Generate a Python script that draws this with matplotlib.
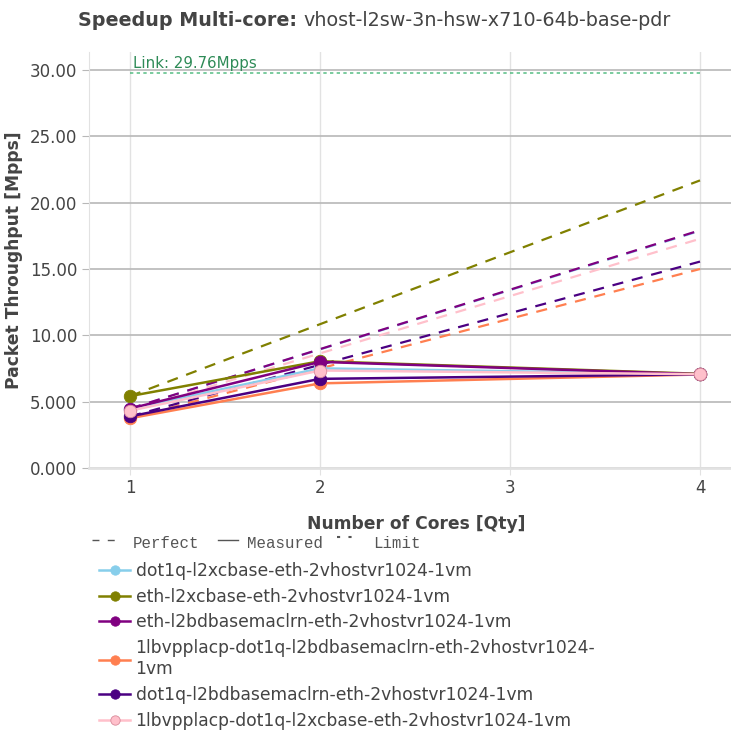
import matplotlib
matplotlib.use("Agg")
import matplotlib.pyplot as plt
import matplotlib.ticker as ticker
from matplotlib.lines import Line2D

# data
cores = [1, 2, 4]
names = [
    "dot1q-l2xcbase-eth-2vhostvr1024-1vm",
    "eth-l2xcbase-eth-2vhostvr1024-1vm",
    "eth-l2bdbasemaclrn-eth-2vhostvr1024-1vm",
    "1lbvpplacp-dot1q-l2bdbasemaclrn-eth-2vhostvr1024-\n1vm",
    "dot1q-l2bdbasemaclrn-eth-2vhostvr1024-1vm",
    "1lbvpplacp-dot1q-l2xcbase-eth-2vhostvr1024-1vm",
]
colors = ["#87ceeb", "#808000", "#800080", "#ff7f50", "#4b0082", "#ffc0cb"]
measured = [
    [4.47, 7.51, 7.08],
    [5.42, 8.05, 7.10],
    [4.48, 8.00, 7.07],
    [3.75, 6.38, 7.05],
    [3.89, 6.72, 7.06],
    [4.32, 7.35, 7.07],
]
link_limit = 29.76
xticks = [1, 2, 3, 4]

W, H = 731, 736
fig = plt.figure(figsize=(W / 100, H / 100), dpi=100)
ax = fig.add_axes([89 / W, 1 - 468 / H, 1 - 89 / W, (468 - 52) / H])

txt = "#444444"

for i, name in enumerate(names):
    base = measured[i][0]
    ax.plot(cores, [base * c for c in cores], ls=(0, (5, 4)), lw=1.6,
            color=colors[i], zorder=3)
for i, name in enumerate(names):
    ax.plot(cores, measured[i], color=colors[i], lw=1.8, marker="o",
            markersize=9, markeredgewidth=0.6,
            markeredgecolor=colors[i] if i != 5 else "#d98a9a",
            label=name, zorder=4 + i)

ax.plot([1, 4], [link_limit, link_limit], ls=(0, (2, 2)), lw=1.2,
        color="#3cb371", alpha=0.8, zorder=2)
ax.text(1.015, link_limit + 0.2, "Link: 29.76Mpps", color="#2e8b57",
        fontsize=10.8, va="bottom", ha="left")

ax.set_xlim(1 - 41 / 190, 4 + 31 / 190)
ax.set_ylim(0, 31.36)
ax.set_xticks(xticks)
ax.set_yticks([0, 5, 10, 15, 20, 25, 30])
ax.yaxis.set_major_formatter(ticker.FuncFormatter(
    lambda v, p: "%.2f" % v if v >= 10 else "%.3f" % v))

ax.grid(axis="x", color="#e2e2e2", lw=1)
ax.grid(axis="y", color="#b8b8b8", lw=1.2)
ax.set_axisbelow(True)
for s in ["top", "right"]:
    ax.spines[s].set_visible(False)
ax.spines["left"].set_color("#e2e2e2")
ax.spines["bottom"].set_color("#e2e2e2")
ax.spines["bottom"].set_linewidth(2)
ax.tick_params(axis="both", colors="#b8b8b8", labelcolor=txt, labelsize=12,
               length=5)
ax.tick_params(axis="x", colors="#e2e2e2", labelcolor=txt, pad=3)

ax.set_ylabel("Packet Throughput [Mpps]", fontsize=12.3, fontweight="bold",
              color=txt, labelpad=5)
fig.text(416 / W, 1 - 524 / H, "Number of Cores [Qty]", fontsize=12.3,
         fontweight="bold", color=txt, ha="center", va="center")

fig.text(297 / W, 1 - 21 / H, "Speedup Multi-core:", fontsize=13.8,
         fontweight="bold", color=txt, ha="right", va="center")
fig.text(303 / W, 1 - 21 / H, "vhost-l2sw-3n-hsw-x710-64b-base-pdr",
         fontsize=13.8, color=txt, ha="left", va="center")

# line style key
ky = 1 - 540 / H
fig.add_artist(Line2D([92 / W, 121 / W], [ky, ky], ls=(0, (5, 6)), lw=1,
                      color="#555555"))
fig.add_artist(Line2D([218 / W, 238 / W], [ky, ky], lw=1, color="#555555"))
fig.add_artist(Line2D([337 / W, 358 / W], [1 - 537 / H, 1 - 537 / H],
                      ls=(0, (1.5, 4)), lw=1.5, color="#555555"))
for x0, s in [(133, "Perfect"), (247, "Measured"), (373, "Limit")]:
    fig.text(x0 / W, 1 - 543 / H, s, fontsize=11.3, family="Liberation Mono",
             color="#555555", va="center", ha="left")

leg = fig.legend(loc="upper left", bbox_to_anchor=(92 / W, 1 - 555 / H),
                 frameon=False, fontsize=12.3, handlelength=1.85,
                 handletextpad=0.3, labelspacing=0.45, borderaxespad=0,
                 markerscale=0.75)
for t in leg.get_texts():
    t.set_color(txt)
    t.set_linespacing(1.25)

fig.savefig("out.png", dpi=100)
